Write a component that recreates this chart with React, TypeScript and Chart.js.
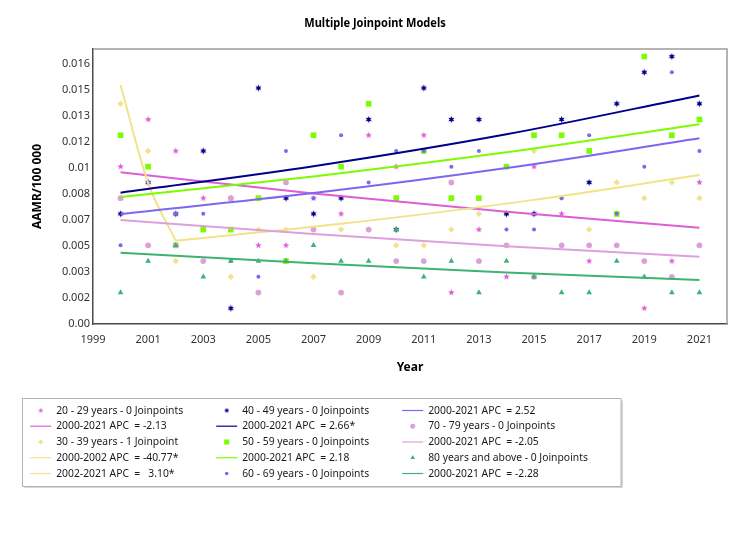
import React, { useEffect, useRef } from 'react';
import { Chart, registerables } from 'chart.js';
import { drawPoint } from 'chart.js/helpers';

Chart.register(...registerables);

// Observation years
const years = [2000, 2001, 2002, 2003, 2004, 2005, 2006, 2007, 2008, 2009, 2010, 2011, 2012, 2013, 2014, 2015, 2016, 2017, 2018, 2019, 2020, 2021];

// Observed AAMR per age group
const aamr20to29 = [0.010, 0.013, 0.011, 0.008, 0.008, 0.005, 0.005, 0.008, 0.007, 0.012, 0.010, 0.012, 0.002, 0.006, 0.003, 0.010, 0.007, 0.004, 0.007, 0.001, 0.004, 0.009];
const aamr30to39 = [0.014, 0.011, 0.004, 0.006, 0.003, 0.006, 0.006, 0.003, 0.006, 0.006, 0.005, 0.005, 0.006, 0.007, 0.007, 0.011, 0.008, 0.006, 0.009, 0.008, 0.009, 0.008];
const aamr40to49 = [0.007, 0.009, 0.007, 0.011, 0.001, 0.015, 0.008, 0.007, 0.008, 0.013, 0.006, 0.015, 0.013, 0.013, 0.007, 0.007, 0.013, 0.009, 0.014, 0.016, 0.017, 0.014];
const aamr50to59 = [0.012, 0.010, 0.005, 0.006, 0.006, 0.008, 0.004, 0.012, 0.010, 0.014, 0.008, 0.011, 0.008, 0.008, 0.010, 0.012, 0.012, 0.011, 0.007, 0.017, 0.012, 0.013];
const aamr60to69 = [0.005, 0.009, 0.007, 0.007, 0.004, 0.003, 0.011, 0.008, 0.012, 0.009, 0.011, 0.011, 0.010, 0.011, 0.006, 0.006, 0.008, 0.012, 0.007, 0.010, 0.016, 0.011];
const aamr70to79 = [0.008, 0.005, 0.005, 0.004, 0.008, 0.002, 0.009, 0.006, 0.002, 0.006, 0.004, 0.004, 0.009, 0.004, 0.005, 0.003, 0.005, 0.005, 0.005, 0.004, 0.003, 0.005];
const aamr80plus = [0.002, 0.004, 0.005, 0.003, 0.004, 0.004, 0.004, 0.005, 0.004, 0.004, 0.006, 0.003, 0.004, 0.002, 0.004, 0.003, 0.002, 0.002, 0.004, 0.003, 0.002, 0.002];

// Modelled (joinpoint) values at selected years
const fitYears = [2000, 2007, 2014, 2021];
const fit20to29 = [0.00964, 0.00829, 0.00713, 0.00612];
const fit40to49 = [0.00835, 0.01003, 0.01206, 0.01453];
const fit50to59 = [0.00807, 0.00938, 0.01091, 0.01269];
const fit60to69 = [0.00699, 0.00832, 0.00991, 0.01180];
const fit70to79 = [0.00661, 0.00572, 0.00494, 0.00428];
const fit80plus = [0.00453, 0.00386, 0.00328, 0.00280];
const fit30to39SegAYears = [2000, 2001, 2002];
const fit30to39SegA = [0.01519, 0.00897, 0.00530];
const fit30to39SegBYears = [2002, 2008, 2015, 2021];
const fit30to39SegB = [0.00530, 0.00637, 0.00789, 0.00947];

// Axis ticks
const xTickYears = [1999, 2001, 2003, 2005, 2007, 2009, 2011, 2013, 2015, 2017, 2019, 2021];
const yTickLabels = ['0.00', '0.002', '0.003', '0.005', '0.007', '0.008', '0.01', '0.012', '0.013', '0.015', '0.016'];
const yTickStep = 0.001651;
const yAxisMax = 0.01748;

const chartTitle = 'Multiple Joinpoint Models';
const xAxisTitle = 'Year';
const yAxisTitle = 'AAMR/100 000';

const seriesLabels = [
  '20 - 29 years - 0 Joinpoints',
  '30 - 39 years - 1 Joinpoint',
  '40 - 49 years - 0 Joinpoints',
  '50 - 59 years - 0 Joinpoints',
  '60 - 69 years - 0 Joinpoints',
  '70 - 79 years - 0 Joinpoints',
  '80 years and above - 0 Joinpoints',
];
const fitLabels = [
  '2000-2021 APC  = -2.13',
  '2000-2002 APC  = -40.77*',
  '2002-2021 APC  =   3.10*',
  '2000-2021 APC  = 2.66*',
  '2000-2021 APC  = 2.18',
  '2000-2021 APC  = 2.52',
  '2000-2021 APC  = -2.05',
  '2000-2021 APC  = -2.28',
];

const FONT = '"Noto Sans", "Open Sans", sans-serif';

const COLORS = {
  g20: '#DD5ED8',
  g30: '#F0E38A',
  g40: '#00008B',
  g50: '#7CFC00',
  g60: '#7B68EE',
  g70: '#DDA0DD',
  g80: '#3CB371',
};

function starImage(color: string, spikes: number, outer: number, inner: number): HTMLCanvasElement {
  const size = Math.ceil(outer * 2) + 2;
  const c = document.createElement('canvas');
  c.width = size;
  c.height = size;
  const g = c.getContext('2d')!;
  g.fillStyle = color;
  g.beginPath();
  for (let k = 0; k < spikes * 2; k++) {
    const r = k % 2 === 0 ? outer : inner;
    const ang = -Math.PI / 2 + (k * Math.PI) / spikes;
    const px = size / 2 + r * Math.cos(ang);
    const py = size / 2 + r * Math.sin(ang);
    if (k === 0) g.moveTo(px, py);
    else g.lineTo(px, py);
  }
  g.closePath();
  g.fill();
  return c;
}

const pairs = (xs: number[], ys: number[]) => xs.map((x, i) => ({ x, y: ys[i] }));

export default function App() {
  const canvasRef = useRef<HTMLCanvasElement | null>(null);

  useEffect(() => {
    const canvas = canvasRef.current;
    if (!canvas) return;

    const pinkStar = starImage(COLORS.g20, 5, 3.4, 1.5);
    const navyStar = starImage(COLORS.g40, 6, 3.4, 1.7);
    const pinkStarSmall = starImage(COLORS.g20, 5, 2.8, 1.2);
    const navyStarSmall = starImage(COLORS.g40, 6, 2.6, 1.3);

    const pointStyles: any[] = [
      { pointStyle: pinkStar, radius: 3.4, color: COLORS.g20, legendStyle: pinkStarSmall, legendRadius: 3 },
      { pointStyle: 'rectRot', radius: 3.2, color: COLORS.g30, legendStyle: 'rectRot', legendRadius: 2.6 },
      { pointStyle: navyStar, radius: 3.4, color: COLORS.g40, legendStyle: navyStarSmall, legendRadius: 3 },
      { pointStyle: 'rect', radius: 4.0, color: COLORS.g50, legendStyle: 'rect', legendRadius: 3.6 },
      { pointStyle: 'circle', radius: 2.0, color: COLORS.g60, legendStyle: 'circle', legendRadius: 1.8 },
      { pointStyle: 'circle', radius: 2.9, color: COLORS.g70, legendStyle: 'circle', legendRadius: 2.5 },
      { pointStyle: 'triangle', radius: 3.3, color: COLORS.g80, legendStyle: 'triangle', legendRadius: 2.6 },
    ];
    const seriesValues = [aamr20to29, aamr30to39, aamr40to49, aamr50to59, aamr60to69, aamr70to79, aamr80plus];

    const pointSets = seriesValues.map((vals, i) => ({
      type: 'scatter' as const,
      label: seriesLabels[i],
      data: pairs(years, vals),
      pointStyle: pointStyles[i].pointStyle,
      pointRadius: pointStyles[i].radius,
      backgroundColor: pointStyles[i].color,
      borderColor: pointStyles[i].color,
      borderWidth: 0,
      order: 30 - i,
    }));

    const fitDefs = [
      { xs: fitYears, ys: fit20to29, color: COLORS.g20 },
      { xs: fit30to39SegAYears, ys: fit30to39SegA, color: COLORS.g30 },
      { xs: fit30to39SegBYears, ys: fit30to39SegB, color: COLORS.g30 },
      { xs: fitYears, ys: fit40to49, color: COLORS.g40 },
      { xs: fitYears, ys: fit50to59, color: COLORS.g50 },
      { xs: fitYears, ys: fit60to69, color: COLORS.g60 },
      { xs: fitYears, ys: fit70to79, color: COLORS.g70 },
      { xs: fitYears, ys: fit80plus, color: COLORS.g80 },
    ];
    const lineSets = fitDefs.map((f, i) => ({
      type: 'line' as const,
      label: fitLabels[i],
      data: pairs(f.xs, f.ys),
      borderColor: f.color,
      backgroundColor: f.color,
      borderWidth: 2,
      pointRadius: 0,
      fill: false,
      cubicInterpolationMode: 'monotone' as const,
      order: 10 - i,
    }));

    // legend: three columns, five rows
    const legendColumns: { kind: 'point' | 'line'; idx: number; text: string }[][] = [
      [
        { kind: 'point', idx: 0, text: seriesLabels[0] },
        { kind: 'line', idx: 0, text: fitLabels[0] },
        { kind: 'point', idx: 1, text: seriesLabels[1] },
        { kind: 'line', idx: 1, text: fitLabels[1] },
        { kind: 'line', idx: 2, text: fitLabels[2] },
      ],
      [
        { kind: 'point', idx: 2, text: seriesLabels[2] },
        { kind: 'line', idx: 3, text: fitLabels[3] },
        { kind: 'point', idx: 3, text: seriesLabels[3] },
        { kind: 'line', idx: 4, text: fitLabels[4] },
        { kind: 'point', idx: 4, text: seriesLabels[4] },
      ],
      [
        { kind: 'line', idx: 5, text: fitLabels[5] },
        { kind: 'point', idx: 5, text: seriesLabels[5] },
        { kind: 'line', idx: 6, text: fitLabels[6] },
        { kind: 'point', idx: 6, text: seriesLabels[6] },
        { kind: 'line', idx: 7, text: fitLabels[7] },
      ],
    ];
    const legendColX = [40.7, 226.7, 412.7];
    const legendRowY = [410.5, 426.2, 442, 457.7, 473.5];

    const decorPlugin = {
      id: 'decor',
      afterDraw(chart: any) {
        const { ctx, chartArea: a } = chart;
        ctx.save();
        // top and right frame edges
        ctx.strokeStyle = '#9c9c9c';
        ctx.lineWidth = 1.5;
        ctx.beginPath();
        ctx.moveTo(a.left, a.top);
        ctx.lineTo(a.right, a.top);
        ctx.lineTo(a.right, a.bottom);
        ctx.stroke();

        // titles
        ctx.fillStyle = '#000';
        ctx.textAlign = 'center';
        ctx.textBaseline = 'middle';
        ctx.font = `bold 11.5px ${FONT}`;
        ctx.save();
        ctx.translate(375, 24);
        ctx.scale(0.96, 1);
        ctx.fillText(chartTitle, 0, 0);
        ctx.restore();
        ctx.font = `bold 12px ${FONT}`;
        ctx.fillText(xAxisTitle, (a.left + a.right) / 2, 368);
        ctx.save();
        ctx.translate(38, (a.top + a.bottom) / 2);
        ctx.rotate(-Math.PI / 2);
        ctx.fillText(yAxisTitle, 0, 0);
        ctx.restore();

        // legend box
        ctx.fillStyle = '#d6d6d6';
        ctx.fillRect(24.5, 486, 598, 2);
        ctx.fillRect(621, 400.5, 2, 87);
        ctx.fillStyle = '#fff';
        ctx.fillRect(22.5, 398.5, 598.5, 88);
        ctx.strokeStyle = '#b4b4b4';
        ctx.lineWidth = 1;
        ctx.strokeRect(22.5, 398.5, 598.5, 88);

        legendColumns.forEach((col, c) => {
          col.forEach((item, r) => {
            const cx = legendColX[c];
            const cy = legendRowY[r];
            if (item.kind === 'line') {
              ctx.strokeStyle = fitDefs[item.idx].color;
              ctx.lineWidth = 1.2;
              ctx.beginPath();
              ctx.moveTo(cx - 10.5, cy);
              ctx.lineTo(cx + 10.5, cy);
              ctx.stroke();
            } else {
              const ps = pointStyles[item.idx];
              ctx.fillStyle = ps.color;
              ctx.strokeStyle = ps.color;
              ctx.lineWidth = 0;
              drawPoint(ctx, { pointStyle: ps.legendStyle, radius: ps.legendRadius, rotation: 0, borderWidth: 0 } as any, cx, cy);
            }
            ctx.save();
            ctx.translate(cx + 15.5, cy);
            ctx.scale(0.94, 1);
            ctx.fillStyle = '#1a1a1a';
            ctx.font = `11px ${FONT}`;
            ctx.textAlign = 'left';
            ctx.textBaseline = 'middle';
            ctx.fillText(item.text, 0, 0);
            ctx.restore();
          });
        });
        ctx.restore();
      },
    };

    const chart = new Chart(canvas, {
      type: 'scatter',
      data: { datasets: [...pointSets, ...lineSets] as any },
      options: {
        animation: false,
        responsive: false,
        devicePixelRatio: 1,
        layout: { padding: { top: 49, right: 23, left: 0, bottom: 0 } },
        plugins: {
          legend: { display: false },
          tooltip: { enabled: false },
          title: { display: false },
        },
        scales: {
          x: {
            type: 'linear',
            min: 1999,
            max: 2022,
            grid: { display: false, drawTicks: false },
            border: { display: true, color: '#4a4a4a', width: 1.5 },
            afterBuildTicks: (scale: any) => {
              scale.ticks = xTickYears.map((v) => ({ value: v }));
            },
            afterFit: (scale: any) => {
              scale.height = 212;
            },
            ticks: {
              autoSkip: false,
              maxRotation: 0,
              padding: 9,
              color: '#333',
              font: { family: FONT, size: 11 },
              callback: (v: any) => String(v),
            },
          },
          y: {
            type: 'linear',
            min: 0,
            max: yAxisMax,
            grid: { display: false, drawTicks: false },
            border: { display: true, color: '#4a4a4a', width: 1.5 },
            afterBuildTicks: (scale: any) => {
              scale.ticks = yTickLabels.map((_, i) => ({ value: i * yTickStep }));
            },
            afterFit: (scale: any) => {
              scale.width = 93;
            },
            ticks: {
              autoSkip: false,
              padding: 3,
              color: '#333',
              font: { family: FONT, size: 11 },
              callback: (_v: any, i: number) => yTickLabels[i],
            },
          },
        },
      },
      plugins: [decorPlugin],
    });

    return () => chart.destroy();
  }, []);

  return (
    <div style={{ position: 'fixed', left: 0, top: 0, width: 750, height: 536, background: '#fff' }}>
      <canvas ref={canvasRef} width={750} height={536} style={{ display: 'block', width: 750, height: 536 }} />
    </div>
  );
}
